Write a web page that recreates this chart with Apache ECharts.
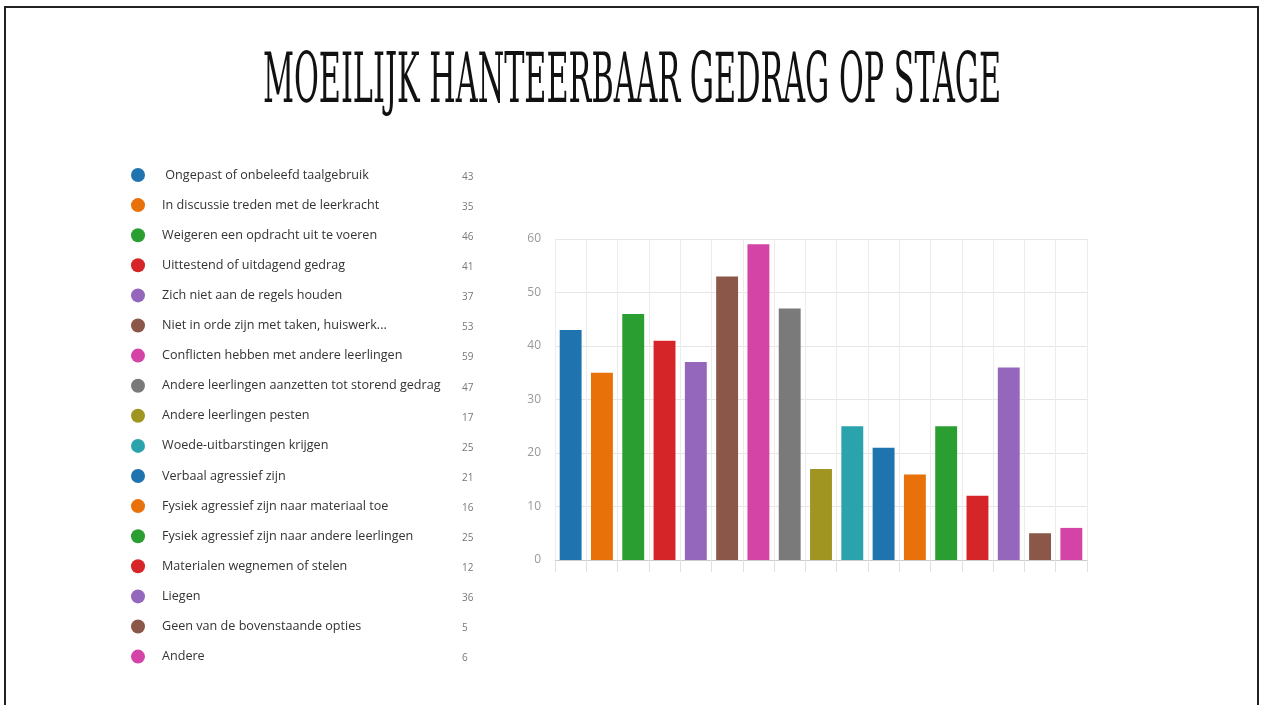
<!DOCTYPE html>
<html>
<head>
<meta charset="utf-8">
<script src="https://cdn.jsdelivr.net/npm/echarts@6/dist/echarts.min.js"></script>
<style>
html,body{margin:0;padding:0;background:#fff;}
#chart{width:1261px;height:705px;}
</style>
</head>
<body>
<div id="chart"></div>
<script>
const titleText = 'MOEILIJK HANTEERBAAR GEDRAG OP STAGE';
const categories = [
  ' Ongepast of onbeleefd taalgebruik',
  'In discussie treden met de leerkracht',
  'Weigeren een opdracht uit te voeren',
  'Uittestend of uitdagend gedrag',
  'Zich niet aan de regels houden',
  'Niet in orde zijn met taken, huiswerk...',
  'Conflicten hebben met andere leerlingen',
  'Andere leerlingen aanzetten tot storend gedrag',
  'Andere leerlingen pesten',
  'Woede-uitbarstingen krijgen',
  'Verbaal agressief zijn',
  'Fysiek agressief zijn naar materiaal toe',
  'Fysiek agressief zijn naar andere leerlingen',
  'Materialen wegnemen of stelen',
  'Liegen',
  'Geen van de bovenstaande opties',
  'Andere'
];
const values = [43, 35, 46, 41, 37, 53, 59, 47, 17, 25, 21, 16, 25, 12, 36, 5, 6];
const colors = ['#1f74b0', '#e8710a', '#2a9e31', '#d62529', '#9467bd', '#8b5749', '#d444a6', '#7a7a7a', '#a09520', '#2aa3ac',
                '#1f74b0', '#e8710a', '#2a9e31', '#d62529', '#9467bd', '#8b5749', '#d444a6'];
const yTicks = [0, 10, 20, 30, 40, 50, 60];

const chart = echarts.init(document.getElementById('chart'), null, {renderer: 'canvas'});

const series = categories.map((name, i) => ({
  name: name,
  type: 'bar',
  stack: 'all',
  barWidth: '70%',
  itemStyle: {color: colors[i]},
  data: categories.map((c, j) => j === i ? values[i] : '-')
}));

const option = {
  backgroundColor: '#fff',
  animation: false,
  graphic: [
    {
      type: 'rect',
      shape: {x: 5, y: 7, width: 1253, height: 720},
      style: {fill: 'none', stroke: '#222', lineWidth: 2},
      silent: true
    },
    {
      type: 'text',
      x: 632, y: 119,
      scaleX: 0.488,
      style: {
        text: titleText,
        font: 'normal 69px "DejaVu Serif Condensed", "DejaVu Serif", serif',
        fill: '#111',
        textAlign: 'center',
        textVerticalAlign: 'bottom'
      },
      silent: true
    }
  ],
  legend: {
    orient: 'vertical',
    left: 131,
    top: 168,
    padding: 0,
    itemGap: 16.1,
    itemWidth: 14,
    itemHeight: 14,
    icon: 'circle',
    selectedMode: false,
    data: categories,
    formatter: function (name) {
      const idx = categories.indexOf(name);
      return '{n|' + name + '}{v|' + values[idx] + '}';
    },
    textStyle: {
      rich: {
        n: {width: 300, padding: [0, 0, 0, 12], fontFamily: 'Open Sans', fontSize: 12.6, color: '#333', lineHeight: 14},
        v: {fontFamily: 'Open Sans', fontSize: 10, color: '#777', lineHeight: 14, padding: [4, 0, 0, 0]}
      }
    }
  },
  grid: {left: 555, top: 239, right: 174, bottom: 145, containLabel: false},
  xAxis: {
    type: 'category',
    data: categories,
    boundaryGap: true,
    axisLabel: {show: false, interval: 0},
    axisLine: {lineStyle: {color: '#ccc'}},
    axisTick: {show: true, interval: 0, length: 12, lineStyle: {color: '#e0e0e0'}},
    splitLine: {show: true, interval: 0, lineStyle: {color: '#ececec'}}
  },
  yAxis: {
    type: 'value',
    min: yTicks[0],
    max: yTicks[yTicks.length - 1],
    interval: 10,
    axisLine: {show: false},
    axisTick: {show: false},
    axisLabel: {color: '#999', fontSize: 12, fontFamily: 'Open Sans', margin: 14},
    splitLine: {lineStyle: {color: '#e6e6e6'}}
  },
  series: series
};
chart.setOption(option);
</script>
</body>
</html>
